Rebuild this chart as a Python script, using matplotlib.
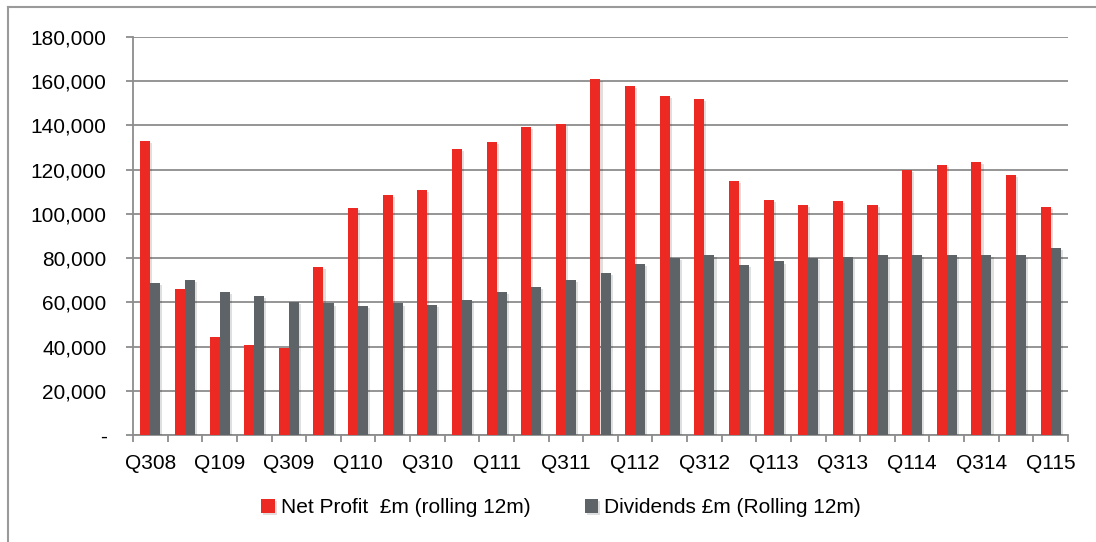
import matplotlib
matplotlib.use("Agg")
import matplotlib.pyplot as plt
from matplotlib.lines import Line2D
from matplotlib.ticker import FuncFormatter, MultipleLocator
import matplotlib.patheffects as pe
import numpy as np

quarters = ["Q308", "Q408", "Q109", "Q209", "Q309", "Q409", "Q110", "Q210", "Q310",
            "Q410", "Q111", "Q211", "Q311", "Q411", "Q112", "Q212", "Q312", "Q412",
            "Q113", "Q213", "Q313", "Q413", "Q114", "Q214", "Q314", "Q414", "Q115"]
net_profit = [133000, 66000, 44500, 40500, 39500, 76000, 102500, 108500, 111000,
              129500, 132500, 139500, 140500, 161000, 158000, 153500, 152000, 115000,
              106500, 104000, 106000, 104000, 120000, 122000, 123500, 117500, 103000]
dividends = [68800, 70200, 64600, 63000, 60000, 59500, 58200, 59500, 59000,
             61000, 64500, 67000, 70000, 73200, 77500, 80000, 81600, 77000,
             78500, 80000, 80500, 81200, 81500, 81500, 81500, 81200, 84500]

RED = "#ED2924"
GREY = "#5E6367"
GRID = "#8C8C8C"

plt.rcParams['font.family'] = ['Liberation Sans', 'DejaVu Sans']

fig = plt.figure(figsize=(10.96, 5.42), dpi=100)
ax = fig.add_axes([133/1096, 1-435/542, (1068-133)/1096, (435-37)/542])

x = np.arange(len(quarters))
w = 0.29
shadow = [pe.SimplePatchShadow(offset=(1.5, -1.5), alpha=0.14), pe.Normal()]
b1 = ax.bar(x - w/2, net_profit, w, color=RED, label="Net Profit  £m (rolling 12m)", zorder=3)
b2 = ax.bar(x + w/2, dividends, w, color=GREY, label="Dividends £m (Rolling 12m)", zorder=3)
for b in list(b1) + list(b2):
    b.set_path_effects(shadow)

ax.set_xlim(-0.5, len(quarters) - 0.5)
ax.set_ylim(0, 180000)
ax.yaxis.set_major_locator(MultipleLocator(20000))
ax.yaxis.set_major_formatter(FuncFormatter(lambda v, p: "-" if v == 0 else f"{v:,.0f}"))
ax.grid(axis="y", color=GRID, linewidth=1.3, zorder=0)
ax.set_axisbelow(True)

ax.set_xticks(x[::2])
ax.set_xticklabels(quarters[::2])
ax.set_xticks(np.arange(-0.5, len(quarters)), minor=True)
ax.tick_params(axis="x", which="major", length=0, pad=14, labelsize=15)
ax.tick_params(axis="x", which="minor", length=5, width=1.3, color=GRID)
ax.tick_params(axis="y", length=5, width=1.3, color=GRID, pad=14, labelsize=15)

for s in ["top", "right"]:
    ax.spines[s].set_visible(False)
for s in ["left", "bottom"]:
    ax.spines[s].set_color(GRID)
    ax.spines[s].set_linewidth(1.3)

fig.legend(handles=[b1, b2], loc="center", bbox_to_anchor=(0.512, 0.063), ncol=2,
           frameon=False, fontsize=15, handlelength=0.65, handleheight=0.65,
           handletextpad=0.3, columnspacing=2.6)

# outer chart border (top and left visible)
fig.add_artist(Line2D([8/1096, 8/1096], [0, 1-7/542], color="#9A9A9A", linewidth=1.5))
fig.add_artist(Line2D([8/1096, 1], [1-7/542, 1-7/542], color="#9A9A9A", linewidth=1.5))

fig.savefig("out.png", dpi=100)
